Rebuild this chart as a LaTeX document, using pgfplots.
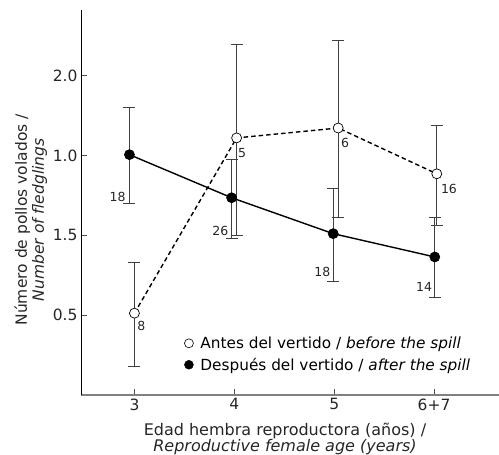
\documentclass[border=0pt]{standalone}
\usepackage{pgfplots}
\pgfplotsset{compat=1.18}
\usepackage{fontspec}
\setmainfont{DejaVu Sans}
\begin{document}
\begin{tikzpicture}
\begin{axis}[
  scale only axis, width=418pt, height=385pt,
  xmin=2.465, xmax=6.65, ymin=0, ymax=2.4125,
  axis lines*=left,
  x axis line style={draw=black!50, line width=1.2pt},
  y axis line style={draw=black, line width=0.7pt},
  tick align=inside, major tick length=6pt,
  tick style={black!70, line width=0.7pt},
  xtick={3,4,5,6}, xticklabels={3,4,5,6+7},
  ytick={0.5,1,1.5,2}, yticklabels={0.5,1.5,1.0,2.0},
  /pgf/number format/assume math mode=true,
  tick label style={font=\fontsize{15.5}{17}\selectfont, text=black!85},
  xlabel={Edad hembra reproductora (años) /\\\textit{Reproductive female age (years)}},
  xlabel style={align=center, font=\fontsize{16}{15}\selectfont, text=black!85, at={(axis description cs:0.488,0)}, yshift=-44pt, anchor=center},
  ylabel={Número de pollos volados /\\\textit{Number of fledglings}},
  ylabel style={align=center, font=\fontsize{15.5}{17}\selectfont, text=black!85, at={(axis description cs:-0.12,0.455)}, anchor=center},
  legend style={at={(rel axis cs:0.247,0.106)}, anchor=west, draw=none, fill=none, font=\fontsize{15.3}{17}\selectfont, row sep=4pt, column sep=5pt, inner sep=0pt},
  legend cell align=left,
  clip=false,
]
\addlegendimage{only marks, mark=*, mark options={fill=white, draw=black, line width=0.6pt}, mark size=4.5pt}
\addlegendentry{Antes del vertido / \textit{before the spill}}
\addlegendimage{only marks, mark=*, mark options={fill=black, draw=black}, mark size=4.5pt}
\addlegendentry{Después del vertido / \textit{after the spill}}

% before the spill (open circles)
\addplot[forget plot, black, line width=1.4pt, dash pattern=on 4.5pt off 3pt,
  mark=*, mark size=5pt, mark options={solid, fill=white, draw=black, line width=0.7pt},
  error bars/.cd, y dir=both, y explicit, error mark=-,
  error bar style={solid, black!75, line width=0.8pt},
  error mark options={solid, rotate=90, black!75, mark size=6pt, line width=0.8pt}]
coordinates {
  (3.0,0.5125)   += (0,0.3185) -= (0,0.3315)
  (4.023,1.611)  += (0,0.583)  -= (0,0.609)
  (5.04,1.673)   += (0,0.548)  -= (0,0.559)
  (6.027,1.386)  += (0,0.303)  -= (0,0.3235)
};

% after the spill (filled circles)
\addplot[forget plot, black, line width=1.4pt,
  mark=*, mark size=5pt, mark options={solid, fill=black, draw=black, line width=0.7pt},
  error bars/.cd, y dir=both, y explicit, error mark=-,
  error bar style={solid, black!75, line width=0.8pt},
  error mark options={solid, rotate=90, black!75, mark size=6pt, line width=0.8pt}]
coordinates {
  (2.95,1.506)   += (0,0.298) -= (0,0.306)
  (3.973,1.236)  += (0,0.243) -= (0,0.255)
  (4.99,1.011)   += (0,0.285) -= (0,0.297)
  (6.007,0.865)  += (0,0.248) -= (0,0.251)
};

\begin{scope}[every node/.style={font=\fontsize{12.5}{14}\selectfont, text=black!85, inner sep=0pt}]
\node at (axis cs:2.832,1.244) {18};
\node at (axis cs:3.069,0.431) {8};
\node at (axis cs:4.079,1.519) {5};
\node at (axis cs:5.109,1.581) {6};
\node at (axis cs:6.149,1.294) {16};
\node at (axis cs:3.861,1.025) {26};
\node at (axis cs:4.881,0.769) {18};
\node at (axis cs:5.901,0.675) {14};
\end{scope}
\end{axis}
\pgfresetboundingbox
\path[use as bounding box] (-81pt,-60pt) rectangle (418pt,395pt);
\end{tikzpicture}
\end{document}
